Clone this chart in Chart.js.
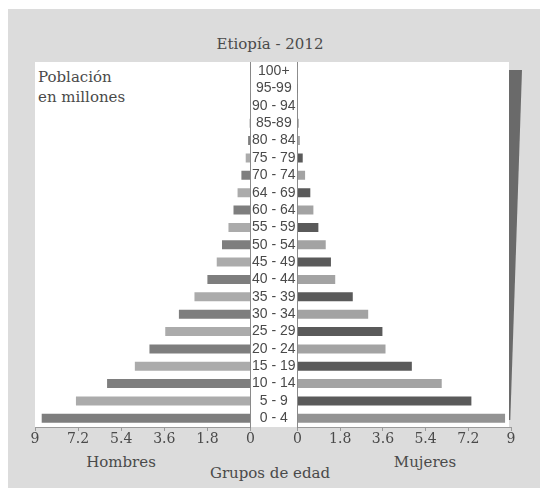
<!DOCTYPE html>
<html>
<head>
<meta charset="utf-8">
<script src="https://cdn.jsdelivr.net/npm/chart.js@4/dist/chart.umd.min.js"></script>
<style>
    body { margin: 0; background: #fff; width: 540px; height: 490px; overflow: hidden; }
    #frame { position: absolute; left: 8px; top: 9px; width: 532px; height: 479px; background: #dcdcdc; }
    #plotbg { position: absolute; left: 35px; top: 62px; width: 474px; height: 365px; background: #fff; }
    #side { position: absolute; left: 509px; top: 70px; width: 13px; height: 350px; background: #6a6a6a;
            clip-path: polygon(0 0, 100% 0, 10% 100%, 0 100%); }
    .txt { position: absolute; font-family: 'DejaVu Serif'; color: #4a4a4a; font-size: 15px; line-height: 18px; white-space: nowrap; }
    canvas { position: absolute; top: 50px; }
</style>
</head>
<body>
<div id="frame"></div>
<div id="plotbg"></div>
<div id="side"></div>
<div class="txt" style="left:0;width:540px;text-align:center;top:35px;">Etiopía - 2012</div>
<div class="txt" style="left:38px;top:67px;line-height:20px;">Población<br>en millones</div>
<div class="txt" style="left:61px;width:120px;text-align:center;top:453px;">Hombres</div>
<div class="txt" style="left:365px;width:120px;text-align:center;top:453px;">Mujeres</div>
<div class="txt" style="left:170px;width:200px;text-align:center;top:464px;">Grupos de edad</div>
<canvas id="left" width="315" height="410" style="left:0"></canvas>
<canvas id="right" width="250" height="410" style="left:290px"></canvas>
<script>
    // age groups from bottom (0-4) to top (100+)
    const ageGroups = ['0 - 4', '5 - 9', '10 - 14', '15 - 19', '20 - 24', '25 - 29', '30 - 34', '35 - 39',
        '40 - 44', '45 - 49', '50 - 54', '55 - 59', '60 - 64', '64 - 69', '70 - 74', '75 - 79',
        '80 - 84', '85-89', '90 - 94', '95-99', '100+']
    // millions
    const hombres = [8.72, 7.29, 5.99, 4.83, 4.22, 3.56, 2.99, 2.34, 1.8, 1.41, 1.19, 0.92, 0.71, 0.54, 0.38, 0.2,
        0.1, 0.04, 0.02, 0.01, 0.005]
    const mujeres = [8.75, 7.33, 6.08, 4.82, 3.71, 3.58, 2.98, 2.33, 1.59, 1.41, 1.19, 0.88, 0.67, 0.54, 0.32, 0.22,
        0.1, 0.04, 0.02, 0.01, 0.005]
    const xTicks = [0, 1.8, 3.6, 5.4, 7.2, 9]

    Chart.defaults.font.family = 'DejaVu Serif'
    Chart.defaults.color = '#4a4a4a'

    const labelFont = {family: "'Liberation Sans', Arial", size: 14}

    function xScale(reverse) {
        return {
            min: 0,
            max: 9,
            reverse: reverse,
            afterBuildTicks: function (scale) {
                scale.ticks = xTicks.map(v => ({value: v}))
            },
            afterFit: function (scale) {
                scale.height = 25
            },
            grid: {drawOnChartArea: false, color: '#9a9a9a', tickLength: 4},
            border: {color: '#9a9a9a'},
            ticks: {font: {size: 14}, padding: 0, maxRotation: 0, autoSkip: false}
        }
    }

    var leftChart = new Chart(document.getElementById('left'), {
        type: 'bar',
        data: {
            labels: ageGroups,
            datasets: [{
                label: 'Hombres',
                data: hombres,
                backgroundColor: ctx => ctx.dataIndex % 2 ? '#ababab' : '#7e7e7e',
                barPercentage: 0.52,
                categoryPercentage: 1
            }]
        },
        options: {
            indexAxis: 'y',
            responsive: false,
            animation: false,
            layout: {padding: {left: 35, right: 17.5, top: 12.5, bottom: 8}},
            plugins: {legend: {display: false}, tooltip: {enabled: false}},
            scales: {
                x: xScale(true),
                y: {
                    position: 'right',
                    reverse: true,
                    afterFit: function (scale) {
                        scale.width = 47
                    },
                    grid: {display: false},
                    border: {color: '#8a8a8a'},
                    ticks: {crossAlign: 'center', padding: -6.5, font: labelFont, autoSkip: false}
                }
            }
        }
    });

    var rightChart = new Chart(document.getElementById('right'), {
        type: 'bar',
        data: {
            labels: ageGroups,
            datasets: [{
                label: 'Mujeres',
                data: mujeres,
                backgroundColor: ctx => ctx.dataIndex == 0 ? '#939393' : (ctx.dataIndex % 2 ? '#5a5a5a' : '#a3a3a3'),
                barPercentage: 0.52,
                categoryPercentage: 1
            }]
        },
        options: {
            indexAxis: 'y',
            responsive: false,
            animation: false,
            layout: {padding: {left: 7.5, right: 29, top: 12.5, bottom: 8}},
            plugins: {legend: {display: false}, tooltip: {enabled: false}},
            scales: {
                x: xScale(false),
                y: {
                    position: 'left',
                    reverse: true,
                    afterFit: function (scale) {
                        scale.width = 0
                    },
                    grid: {display: false},
                    border: {color: '#8a8a8a'},
                    ticks: {display: false}
                }
            }
        }
    });
</script>
</body>
</html>
